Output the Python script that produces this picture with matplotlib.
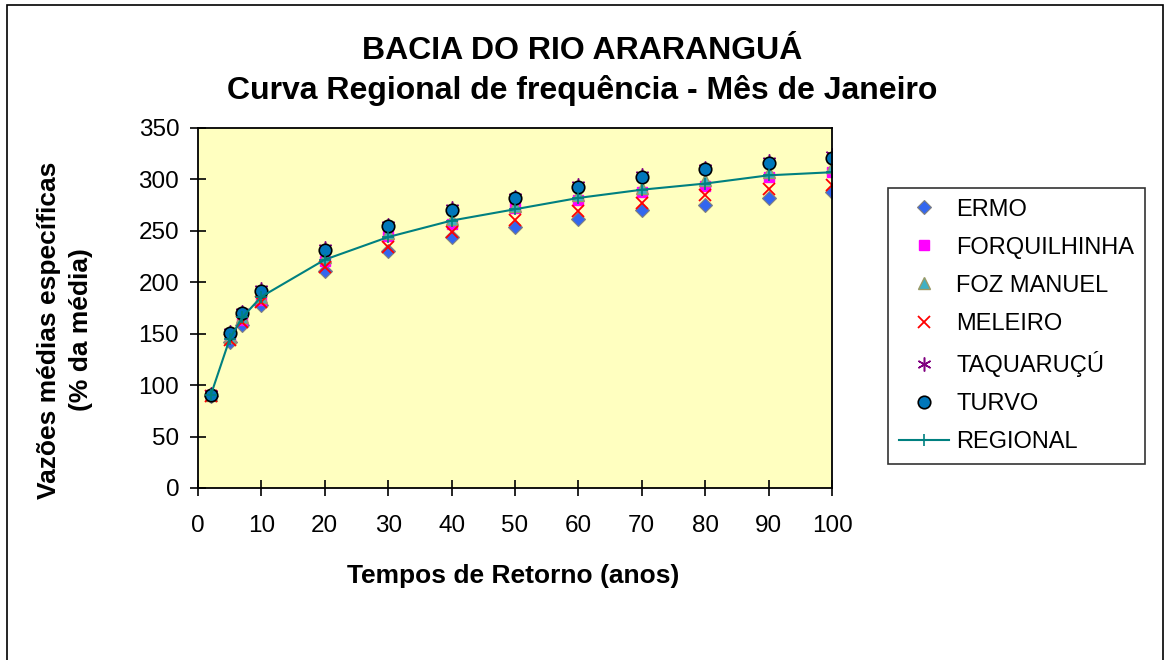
import matplotlib
matplotlib.use("Agg")
import matplotlib.pyplot as plt
from matplotlib.patches import Rectangle

plt.rcParams['font.family'] = ['Liberation Sans', 'DejaVu Sans']

# tempos de retorno (anos)
anos = [2, 5, 7, 10, 20, 30, 40, 50, 60, 70, 80, 90, 100]

ermo = [89, 142, 158, 178, 211, 230, 244, 254, 262, 270, 275, 282, 288]
forquilhinha = [90, 146, 163, 183, 221, 245, 257, 272, 280, 288, 294, 302, 307]
foz_manuel = [90, 147, 166, 186, 225, 248, 262, 274, 285, 292, 299, 307, 312]
meleiro = [89, 144, 161, 181, 215, 234, 249, 261, 269, 277, 285, 291, 295]
taquarucu = [91, 152, 171, 193, 233, 256, 272, 283, 295, 304, 311, 318, 324]
turvo = [90, 151, 170, 192, 231, 255, 270, 282, 293, 302, 310, 316, 321]
regional = [90, 145, 166, 186, 222, 244, 260, 271, 282, 290, 296, 304, 307]

W, H = 1165, 660
fig = plt.figure(figsize=(W / 100, H / 100), dpi=100)
ax = fig.add_axes([198 / W, 1 - 488 / H, (832 - 198) / W, (488 - 128) / H])
ax.set_facecolor('#FFFFC0')

ax.plot(anos, ermo, ls='none', marker='D', ms=7.2, mfc='#3366EE', mec='#808080', mew=0.8, label='ERMO')
ax.plot(anos, forquilhinha, ls='none', marker='s', ms=7, mfc='#FF00FF', mec='#FF00FF', label='FORQUILHINHA')
ax.plot(anos, foz_manuel, ls='none', marker='^', ms=9, mfc='#3FB0C4', mec='#999966', mew=1, label='FOZ MANUEL')
ax.plot(anos, meleiro, ls='none', marker='x', ms=8.5, color='#FF0000', mew=1.3, label='MELEIRO')
ax.plot(anos, taquarucu, ls='none', marker=(6, 2, 0), ms=10, color='#800080', mew=1.1, label='TAQUARUÇÚ')
ax.plot(anos, turvo, ls='none', marker='o', ms=9, mfc='#0077BB', mec='black', mew=1.2, label='TURVO')
ax.plot(anos, regional, color='#008080', lw=1.5, marker='+', ms=9, mew=1.2, label='REGIONAL')

ax.set_xlim(0, 100)
ax.set_ylim(0, 350)
ax.set_xticks(range(0, 101, 10))
ax.set_yticks(range(0, 351, 50))
ax.tick_params(direction='inout', length=11, width=1.2, labelsize=17.5)
ax.tick_params(axis='x', pad=14)
ax.tick_params(axis='y', pad=8)
for s in ax.spines.values():
    s.set_linewidth(1.3)

fig.text(0.5, 1 - 71 / H, 'BACIA DO RIO ARARANGUÁ\nCurva Regional de frequência - Mês de Janeiro',
         ha='center', va='center', fontsize=23, fontweight='bold', linespacing=1.38)
fig.text(513 / W, 1 - 576 / H, 'Tempos de Retorno (anos)', ha='center', va='center',
         fontsize=19, fontweight='bold')
fig.text(65 / W, 1 - 330 / H, 'Vazões médias específicas\n(% da média)', ha='center', va='center',
         rotation=90, fontsize=19, fontweight='bold', linespacing=1.38, multialignment='center')

leg = ax.legend(loc='upper left', bbox_to_anchor=(888 / W, 1 - 188 / H), bbox_transform=fig.transFigure,
                borderaxespad=0, fontsize=17, numpoints=1, handlelength=2.15, handletextpad=0.3,
                labelspacing=0.68, borderpad=0.45, fancybox=False, frameon=True)
leg.get_frame().set_edgecolor('black')
leg.get_frame().set_linewidth(1.2)

fig.patches.append(Rectangle((7 / W, -0.02), (1163 - 7) / W, 1.02 - 5 / H,
                             transform=fig.transFigure, fill=False, edgecolor='black', lw=1.2))

fig.savefig('out.png', dpi=100)
